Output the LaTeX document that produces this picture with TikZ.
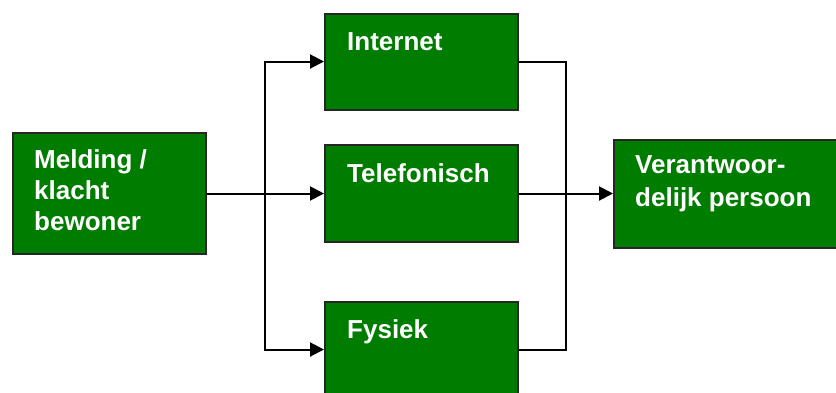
\documentclass[tikz,border=0pt]{standalone}
\usepackage{fontspec}
\setmainfont{Liberation Sans}
\usetikzlibrary{arrows.meta}
\definecolor{boxgreen}{RGB}{0,124,0}
\begin{document}
\begin{tikzpicture}[x=1pt,y=-1pt,
  box/.style={draw=black!85,line width=2pt,fill=boxgreen,rectangle,inner sep=0pt},
  lbl/.style={anchor=base west,inner sep=0pt,text=white,font=\bfseries\fontsize{26}{31}\selectfont,align=left},
  conn/.style={line width=2pt,black},
  arr/.style={conn,-{Triangle[length=14pt,width=14pt]}}]
\useasboundingbox (0,0) rectangle (836,392);
\node[box,minimum width=193.3pt,minimum height=121pt] (mel) at (109.4,193.5) {};
\node[box,minimum width=193pt,minimum height=96pt] (int) at (421.5,61.5) {};
\node[box,minimum width=193pt,minimum height=97pt] (tel) at (421.5,193.5) {};
\node[box,minimum width=193pt,minimum height=95pt] (fys) at (421.5,349.5) {};
\node[box,minimum width=226pt,minimum height=108pt] (ver) at (727,193.5) {};
\node[lbl] (tmel) at (34,230) {Melding /\\klacht\\bewoner};
\node[lbl] (tint) at (347,50) {Internet};
\node[lbl] (ttel) at (347,182) {Telefonisch};
\node[lbl] (tfys) at (347,338) {Fysiek};
\node[lbl,font=\bfseries\fontsize{26}{33}\selectfont] (tver) at (635,206) {Verantwoor-\\delijk persoon};
\coordinate (jl) at (265,193.5);
\coordinate (jr) at (566,193.5);
\draw[arr] (mel.east) -- (tel.west);
\draw[arr] (jl) |- (int.west);
\draw[arr] (jl) |- (fys.west);
\draw[conn] (int.east) -| (jr);
\draw[conn] (fys.east) -| (jr);
\draw[arr] (tel.east) -- (ver.west);
\end{tikzpicture}
\end{document}
